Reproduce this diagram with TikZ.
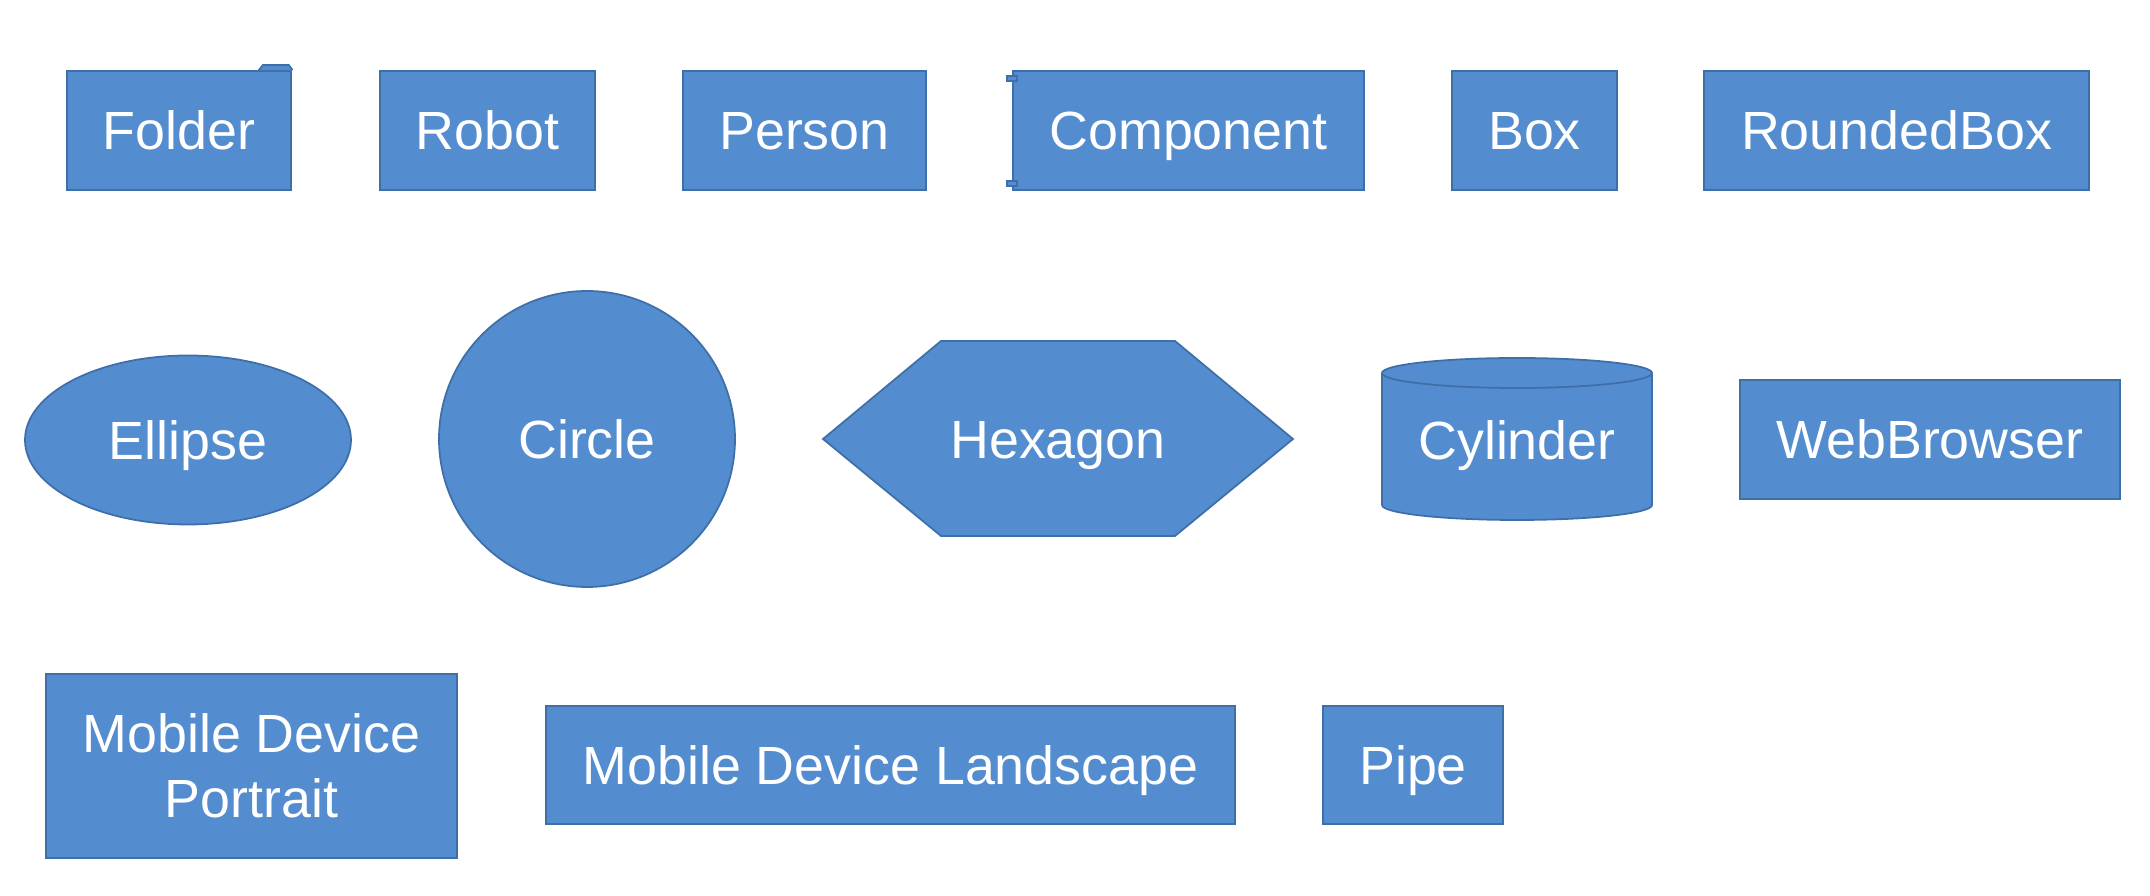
\documentclass[tikz,border=0pt]{standalone}
\usepackage{fontspec}
\setmainfont{Liberation Sans}
\usetikzlibrary{shapes.geometric}
\definecolor{shapeblue}{HTML}{538DCF}
\definecolor{shapeline}{HTML}{3F6FA8}
\tikzset{blk/.style={fill=shapeblue,draw=shapeline,line width=0.5pt},
  txt/.style={text=white,font=\fontsize{15.3}{18.5}\selectfont,align=center},
  lbl/.style={txt,text height=10.9pt,text depth=0pt},
  box/.style={blk,lbl,rectangle,inner sep=0pt}}

\begin{document}
\begin{tikzpicture}
\useasboundingbox (0,0) rectangle (21.5,-8.96);
% \draw[help lines] (0,0) grid (21,-9);
% first row
\node (folder) [box,minimum width=2.24cm,minimum height=1.19cm] at (1.79,-1.305) {Folder};
\node (robot) [box,minimum width=2.15cm,minimum height=1.19cm] at (4.875,-1.305) {Robot};
\node (person) [box,minimum width=2.43cm,minimum height=1.19cm] at (8.045,-1.305) {Person};
\node (comp) [box,minimum width=3.51cm,minimum height=1.19cm] at (11.885,-1.305) {Component};
\node (bx) [box,minimum width=1.65cm,minimum height=1.19cm] at (15.345,-1.305) {Box};
\node (rbox) [box,minimum width=3.85cm,minimum height=1.19cm] at (18.965,-1.305) {RoundedBox};
% folder tab and component notches
\path[blk] ([xshift=-0.33cm]folder.north east) -- ++(0.04,0.05) -- ++(0.26,0) -- ++(0.03,-0.04) -- (folder.north east);
\draw[blk] ([shift={(-0.05,-0.06)}]comp.north west) rectangle ++(0.10,-0.05);
\draw[blk] ([shift={(-0.05,0.05)}]comp.south west) rectangle ++(0.10,0.05);
% second row
\node (ell) [blk,lbl,ellipse,minimum width=3.26cm,minimum height=1.69cm] at (1.88,-4.40) {Ellipse};
\node (circ) [blk,lbl,circle,minimum size=2.96cm] at (5.87,-4.39) {Circle};
\draw[blk] (8.23,-4.39) -- (9.41,-3.41) -- (11.75,-3.41) -- (12.93,-4.39) -- (11.75,-5.36) -- (9.41,-5.36) -- cycle;
\node (hex) [lbl] at (10.58,-4.39) {Hexagon};
\draw[blk] (13.82,-3.73) -- (13.82,-5.05) arc (180:360:1.35 and 0.15) -- (16.52,-3.73);
\draw[blk] (15.17,-3.73) ellipse (1.35 and 0.15);
\node (cyl) [lbl] at (15.17,-4.40) {Cylinder};
\node (web) [box,minimum width=3.80cm,minimum height=1.19cm] at (19.30,-4.395) {WebBrowser};
% third row
\node (mdp) [blk,txt,inner sep=0pt,minimum width=4.11cm,minimum height=1.84cm] at (2.515,-7.66) {Mobile Device\\Portrait};
\node (mdl) [box,minimum width=6.89cm,minimum height=1.18cm] at (8.905,-7.65) {Mobile Device Landscape};
\node (pipe) [box,minimum width=1.80cm,minimum height=1.18cm] at (14.13,-7.65) {Pipe};
\end{tikzpicture}
\end{document}
